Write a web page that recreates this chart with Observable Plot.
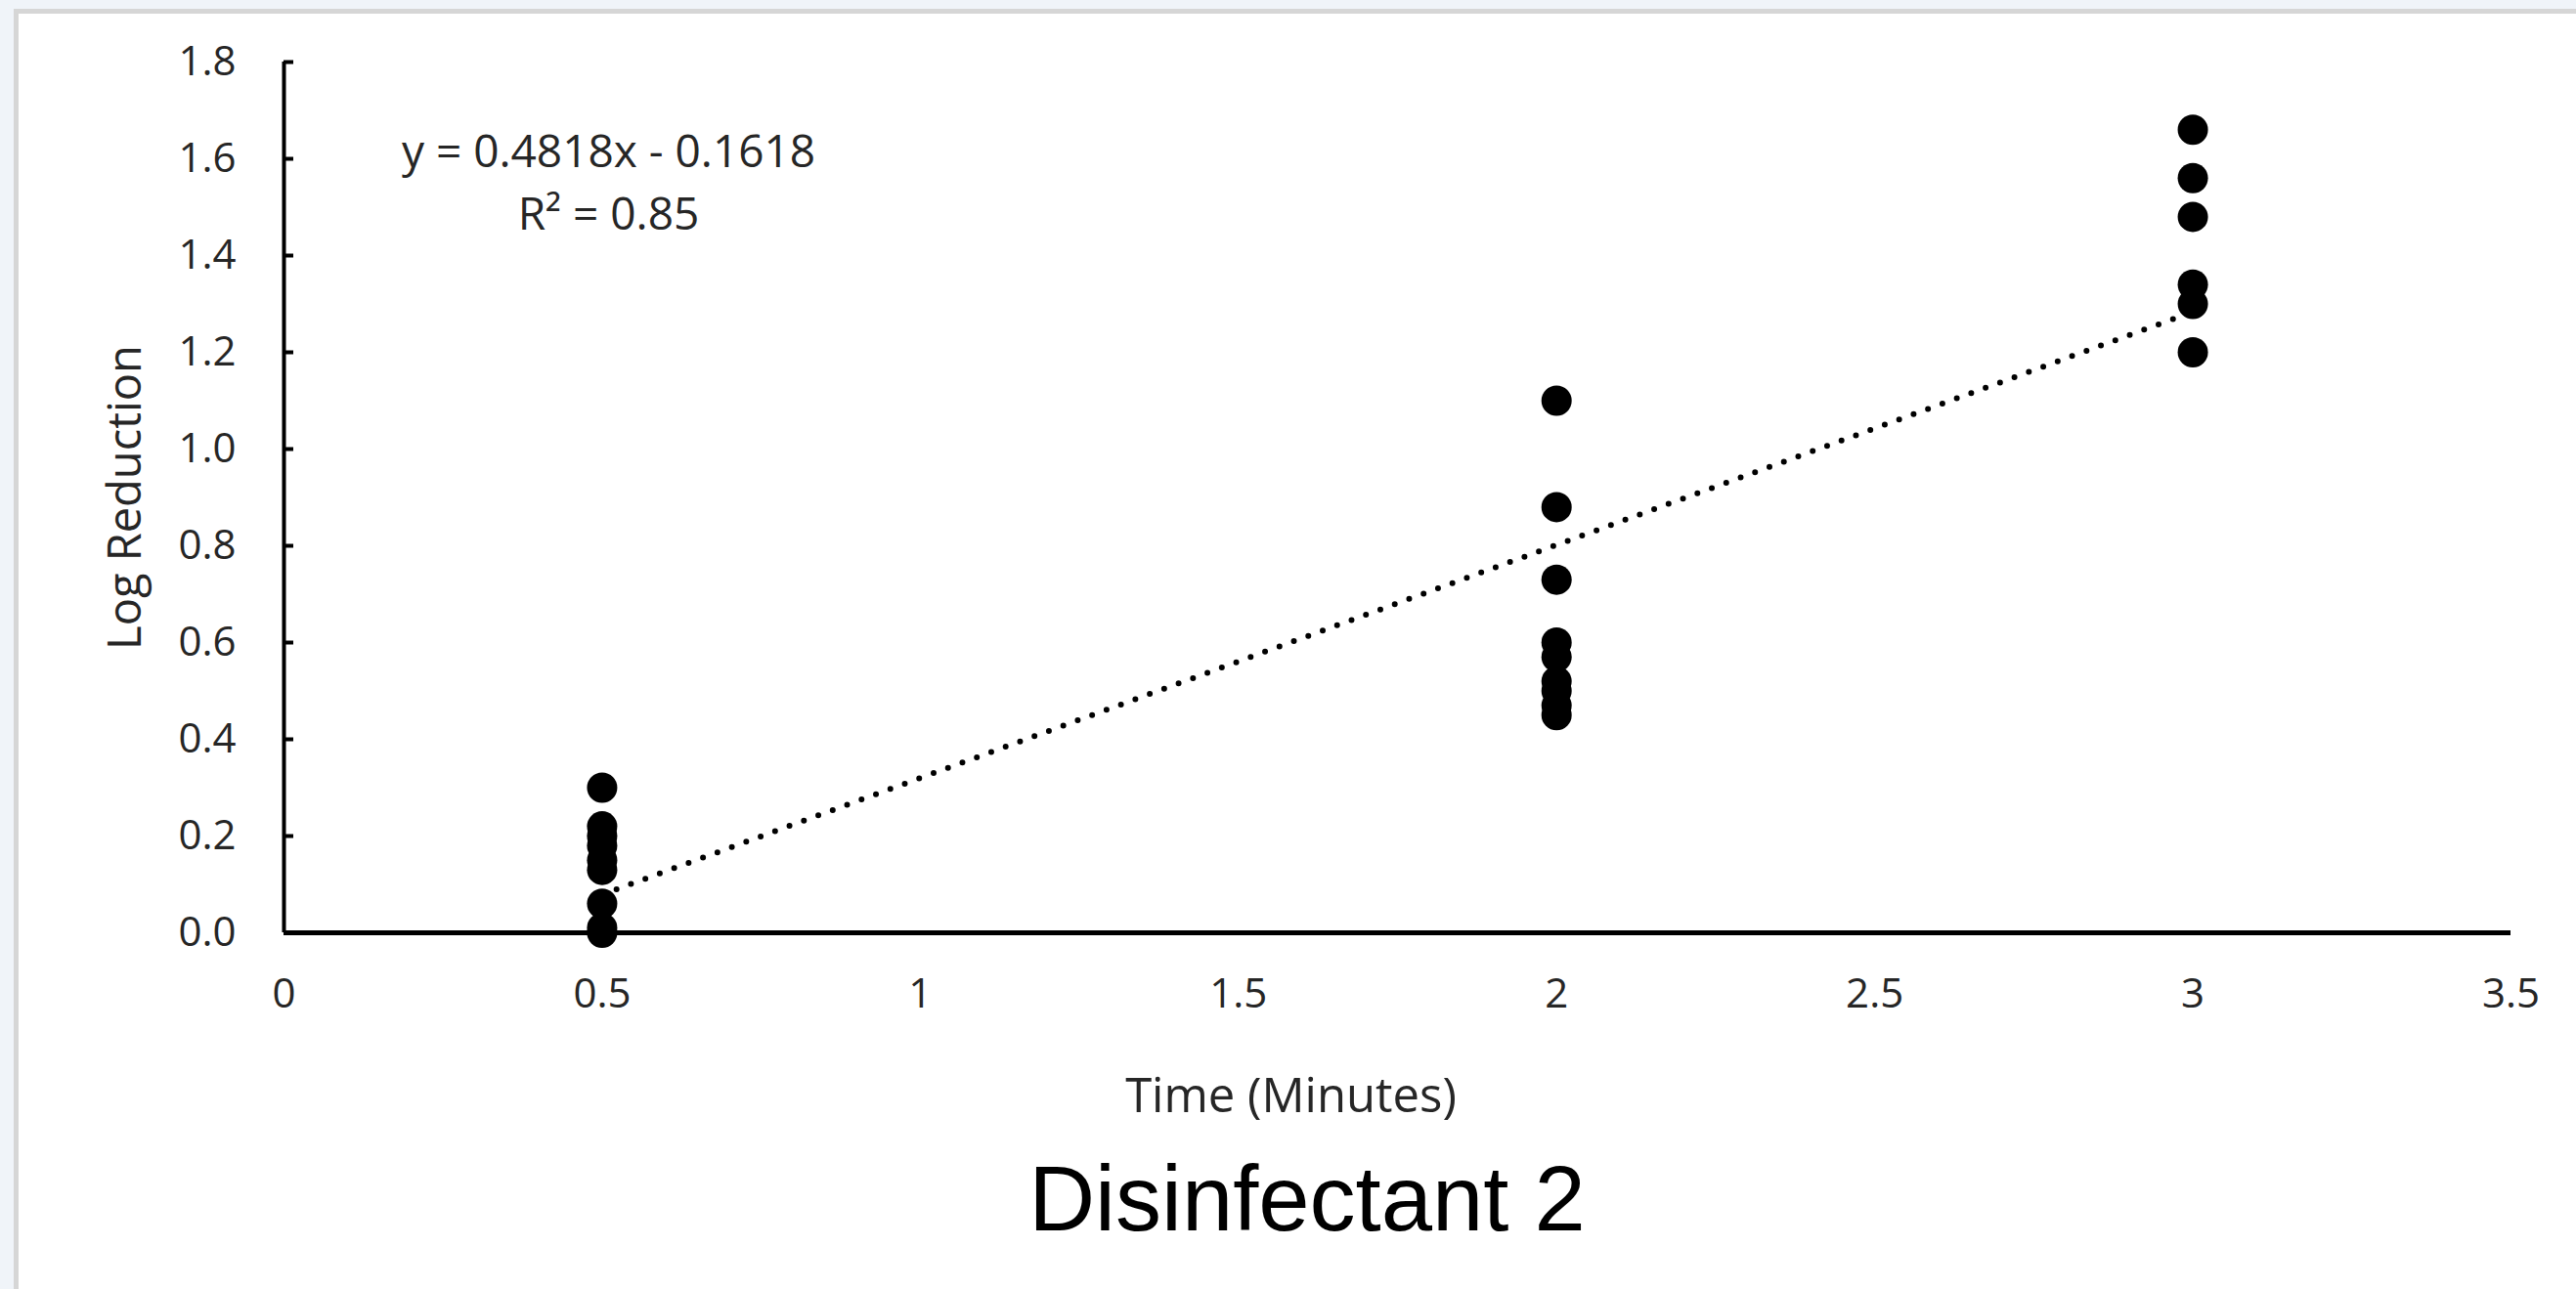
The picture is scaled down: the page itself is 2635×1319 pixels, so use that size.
<!DOCTYPE html>
<html>
<head>
<meta charset="utf-8">
<script src="https://cdn.jsdelivr.net/npm/d3@7"></script>
<script src="https://cdn.jsdelivr.net/npm/@observablehq/plot@0.6"></script>
<style>
  html, body { margin: 0; padding: 0; background: #f0f4f9; width: 2635px; height: 1319px; overflow: hidden; }
  #card { position: absolute; left: 14px; top: 9px; width: 2700px; height: 1400px; background: #fff;
          border-left: 5px solid #d6d6d6; border-top: 5px solid #d6d6d6; }
  #chart { position: absolute; left: 0; top: 0; width: 2635px; }
  #caption { font-family: "Liberation Sans", Arial, sans-serif; font-size: 94px; line-height: 94px;
             text-align: center; padding-left: 39px; margin-top: 10px; color: #000; }
</style>
</head>
<body>
<div id="card"></div>
<div id="chart"></div>
<script>
// ---- data ----
const timesA = [0.5, 0.5, 0.5, 0.5, 0.5, 0.5, 0.5, 0.5, 0.5];
const logA   = [0.30, 0.22, 0.20, 0.18, 0.15, 0.13, 0.06, 0.01, 0.00];
const timesB = [2, 2, 2, 2, 2, 2, 2, 2, 2];
const logB   = [1.10, 0.88, 0.73, 0.60, 0.57, 0.52, 0.50, 0.47, 0.45];
const timesC = [3, 3, 3, 3, 3, 3];
const logC   = [1.66, 1.56, 1.48, 1.34, 1.30, 1.20];
const slope = 0.4818;
const intercept = -0.1618;
const rSquared = 0.85;
const trendRange = [0.5, 3];
const xTicks = [0, 0.5, 1, 1.5, 2, 2.5, 3, 3.5];
const yTicks = [0, 0.2, 0.4, 0.6, 0.8, 1.0, 1.2, 1.4, 1.6, 1.8];
const xTitle = "Time (Minutes)";
const yTitle = "Log Reduction";
const chartTitle = "Disinfectant 2";

// ---- build tables ----
const points = [
  ...timesA.map((t, i) => ({time: t, logR: logA[i]})),
  ...timesB.map((t, i) => ({time: t, logR: logB[i]})),
  ...timesC.map((t, i) => ({time: t, logR: logC[i]}))
];
const trend = trendRange.map(t => ({time: t, logR: slope * t + intercept}));
const eqText = `y = ${slope}x - ${Math.abs(intercept)}\nR² = ${rSquared}`;
const textColor = "#262626";

const plot = Plot.plot({
  width: 2635,
  height: 1170,
  marginLeft: 290,
  marginRight: 67,
  marginTop: 63,
  marginBottom: 216,
  style: {fontFamily: "'Open Sans', sans-serif", background: "transparent", color: textColor},
  x: {domain: [0, 3.5]},
  y: {domain: [0, 1.8]},
  marks: [
    Plot.axisX({ticks: xTicks, tickSize: 0, tickPadding: 47, fontSize: 42, label: null, tickFormat: d => String(d)}),
    Plot.axisY({ticks: yTicks, tickSize: -10, tickPadding: 59, fontSize: 42, strokeWidth: 4, label: null,
                tickFormat: d => d.toFixed(1), stroke: "#000"}),
    Plot.ruleX([0], {y1: 0, y2: 1.8, stroke: "#000", strokeWidth: 4}),
    Plot.ruleY([0], {x1: 0, x2: 3.5, stroke: "#000", strokeWidth: 5}),
    Plot.line(trend, {x: "time", y: "logR", stroke: "#000", strokeWidth: 6,
                      strokeDasharray: "0 15.7", strokeLinecap: "round"}),
    Plot.dot(points, {x: "time", y: "logR", r: 15.5, fill: "#000", stroke: null}),
    Plot.text([eqText], {frameAnchor: "top-left", dx: 332, dy: 119, textAnchor: "middle", lineAnchor: "middle",
                         lineHeight: 1.38, fontSize: 46, fill: textColor}),
    Plot.text([yTitle], {frameAnchor: "left", dx: -162, rotate: -90, textAnchor: "middle", lineAnchor: "middle",
                         fontSize: 47, fill: textColor}),
    Plot.text([xTitle], {frameAnchor: "bottom", dx: -109, dy: 168, textAnchor: "middle", lineAnchor: "middle",
                         fontSize: 49, fill: textColor})
  ]
});
const chart = document.getElementById("chart");
chart.appendChild(plot);
const cap = document.createElement("div");
cap.id = "caption";
cap.textContent = chartTitle;
chart.appendChild(cap);
</script>
</body>
</html>
